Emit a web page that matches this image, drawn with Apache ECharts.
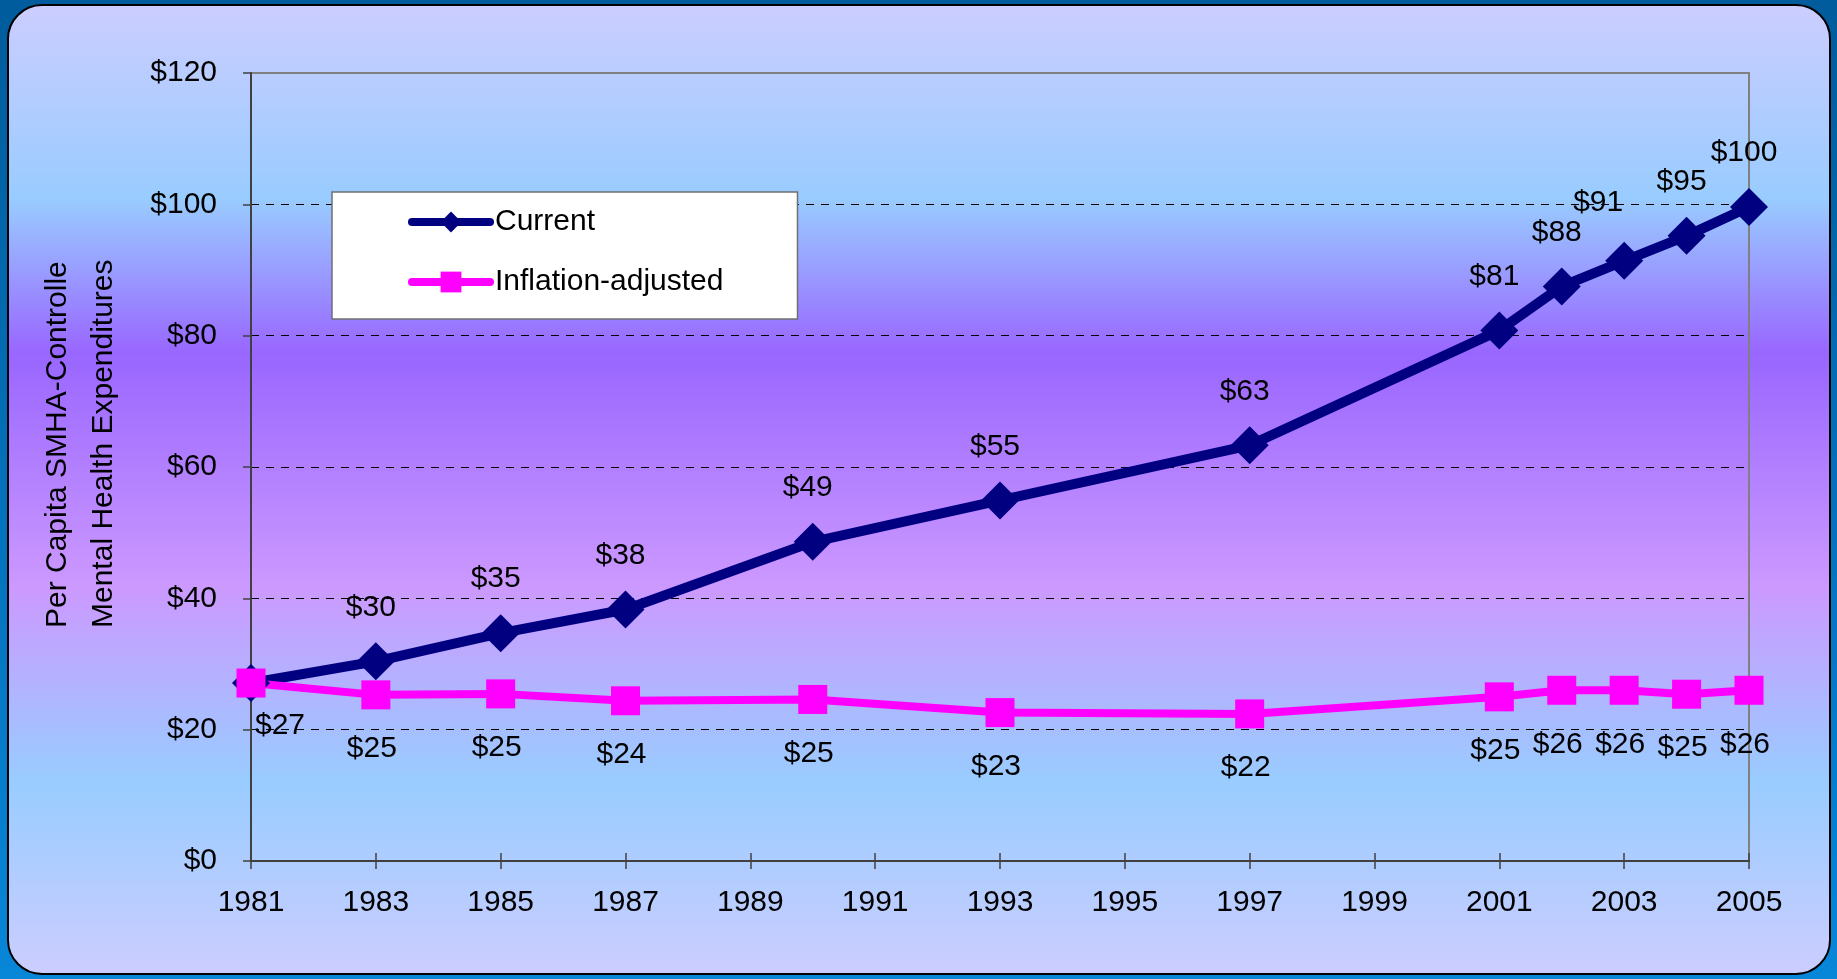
<!DOCTYPE html>
<html>
<head>
<meta charset="utf-8">
<title>Per Capita SMHA-Controlled Mental Health Expenditures</title>
<script src="https://cdn.jsdelivr.net/npm/echarts@6/dist/echarts.min.js"></script>
<style>
  html, body { margin: 0; padding: 0; overflow: hidden; }
  #main { width: 1837px; height: 979px; }
</style>
</head>
<body>
<div id="main"></div>
<script>
// data
var years = [1981, 1983, 1985, 1987, 1990, 1993, 1997, 2001, 2002, 2003, 2004, 2005];
var currentValues = [27.1, 30.4, 34.7, 38.3, 48.6, 54.9, 63.3, 80.8, 87.5, 91.4, 95.2, 99.6];
var inflationValues = [27.1, 25.3, 25.45, 24.4, 24.6, 22.6, 22.4, 25.0, 26.0, 26.0, 25.4, 26.0];
var seriesNames = ['Current', 'Inflation-adjusted'];
var yTitleLines = ['Per Capita SMHA-Controlled', 'Mental Health Expenditures'];

var FONT = '"Liberation Sans", Arial, sans-serif';

var money = function (p) {
    return '$' + Math.round(p.value[1]);
};

var currentData = years.map(function (yr, i) {
    var item = { value: [yr, currentValues[i]] };
    if (i === 0) {
        // the 1981 label sits under the pink one
        item.label = { show: false };
    }
    if (yr === 2003) {
        item.label = { offset: [-26, -58] };
    }
    return item;
});
var inflationData = years.map(function (yr, i) {
    var item = { value: [yr, inflationValues[i]] };
    if (i === 0) {
        item.label = { offset: [29, 43] };
    }
    return item;
});

var panelFill = new echarts.graphic.LinearGradient(0, 0, 0, 1, [
    { offset: 0, color: '#cccdff' },
    { offset: 0.2, color: '#99ccff' },
    { offset: 0.36, color: '#9966ff' },
    { offset: 0.6, color: '#cc99ff' },
    { offset: 0.8, color: '#99ccff' },
    { offset: 1, color: '#cccdff' }
]);
var frameFill = new echarts.graphic.LinearGradient(0, 0, 0, 1, [
    { offset: 0, color: '#005c9c' },
    { offset: 1, color: '#0886d8' }
]);

var labelBase = {
    show: true,
    position: 'inside',
    formatter: money,
    fontSize: 30,
    fontFamily: FONT,
    color: '#000',
    textBorderWidth: 0
};

var myChart = echarts.init(document.getElementById('main'));
myChart.setOption({
    animation: false,
    backgroundColor: 'transparent',
    graphic: [
        {
            type: 'rect', z: -20, silent: true,
            shape: { x: 0, y: 0, width: 1837, height: 979 },
            style: { fill: frameFill }
        },
        {
            type: 'rect', z: -10, silent: true,
            shape: { x: 8, y: 5, width: 1822, height: 969, r: 34 },
            style: { fill: panelFill, stroke: '#000', lineWidth: 2 }
        },
        {
            type: 'text', z: 10, silent: true,
            x: 35, y: 628, rotation: Math.PI / 2,
            style: {
                text: yTitleLines.join('\n'),
                fontSize: 30,
                fontFamily: FONT,
                fill: '#000',
                lineHeight: 46,
                width: 374,
                overflow: 'truncate',
                ellipsis: '',
                align: 'left',
                verticalAlign: 'top'
            }
        }
    ],
    grid: {
        left: 251, right: 88, top: 73, bottom: 118,
        show: true,
        borderColor: '#808080',
        borderWidth: 2,
        backgroundColor: 'transparent',
        outerBoundsMode: 'none'
    },
    legend: {
        data: seriesNames,
        left: 332, top: 192,
        orient: 'vertical',
        align: 'left',
        backgroundColor: '#fff',
        borderColor: '#707070',
        borderWidth: 1.5,
        borderRadius: 0,
        padding: [15, 74, 22, 76],
        itemWidth: 78,
        itemHeight: 26,
        itemGap: 30,
        selectedMode: false,
        lineStyle: { width: 8, cap: 'round' },
        textStyle: { fontSize: 30, fontFamily: FONT, color: '#000' }
    },
    xAxis: [
        {
            type: 'value',
            min: 1981, max: 2005, interval: 2,
            axisLine: { show: true, lineStyle: { color: '#404040', width: 2 } },
            axisTick: { show: true, inside: false, length: 8, lineStyle: { color: '#404040', width: 1.5 } },
            axisLabel: {
                margin: 27, fontSize: 30, fontFamily: FONT, color: '#000',
                formatter: function (v) { return String(v); }
            },
            splitLine: { show: false }
        },
        {
            // second copy only to get ticks crossing the axis line
            type: 'value',
            position: 'bottom',
            min: 1981, max: 2005, interval: 2,
            axisLine: { show: false },
            axisTick: { show: true, inside: true, length: 8, lineStyle: { color: '#404040', width: 1.5 } },
            axisLabel: { show: false },
            splitLine: { show: false }
        }
    ],
    yAxis: {
        type: 'value',
        min: 0, max: 120, interval: 20,
        axisLine: { show: true, lineStyle: { color: '#404040', width: 2 } },
        axisTick: { show: true, inside: false, length: 8, lineStyle: { color: '#404040', width: 1.5 } },
        axisLabel: {
            margin: 34, fontSize: 30, fontFamily: FONT, color: '#000',
            formatter: function (v) { return '$' + v; }
        },
        splitLine: {
            show: true,
            showMinLine: false,
            showMaxLine: false,
            lineStyle: { color: '#000', width: 1, type: [8, 7] }
        }
    },
    series: [
        {
            name: seriesNames[0],
            type: 'line',
            data: currentData,
            symbol: 'diamond',
            symbolSize: 38,
            clip: false,
            lineStyle: { color: '#000080', width: 10 },
            itemStyle: { color: '#000080' },
            label: Object.assign({}, labelBase, { offset: [-5, -54] }),
            emphasis: { disabled: true }
        },
        {
            name: seriesNames[1],
            type: 'line',
            data: inflationData,
            symbol: 'rect',
            symbolSize: 29,
            clip: false,
            lineStyle: { color: '#ff00ff', width: 8 },
            itemStyle: { color: '#ff00ff' },
            label: Object.assign({}, labelBase, { offset: [-4, 54] }),
            emphasis: { disabled: true }
        }
    ]
});
</script>
</body>
</html>
